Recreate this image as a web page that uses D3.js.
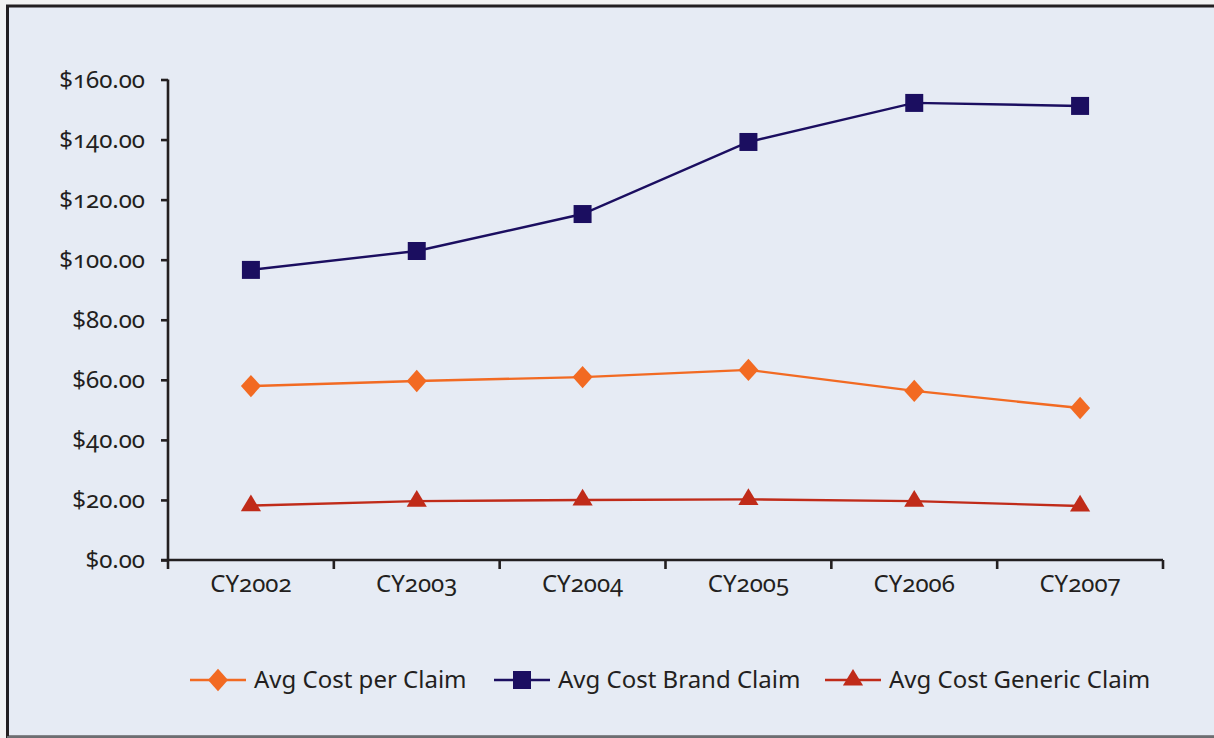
<!DOCTYPE html>
<html>
<head>
<meta charset="utf-8">
<script src="https://cdn.jsdelivr.net/npm/d3@7"></script>
<style>
  html, body { margin: 0; padding: 0; background: #f2f2f2; }
  svg { display: block; }
  text {
    font-family: "Noto Sans", sans-serif;
    font-variant-numeric: oldstyle-nums;
    fill: #231f20;
  }
  .axis path, .axis line { stroke: #231f20; stroke-width: 2.6; }
  .axis text { font-size: 24px; }
  .legend text { font-size: 24px; }
</style>
</head>
<body>
<svg id="chart" width="1214" height="738"></svg>
<script>
"use strict";

const years = ["CY2002", "CY2003", "CY2004", "CY2005", "CY2006", "CY2007"];
const avgCostPerClaim = [57.9, 59.6, 60.9, 63.3, 56.3, 50.6];
const avgCostBrandClaim = [96.6, 102.9, 115.2, 139.2, 152.2, 151.2];
const avgCostGenericClaim = [18.1, 19.6, 20.0, 20.2, 19.6, 18.0];
const yTicks = [0, 20, 40, 60, 80, 100, 120, 140, 160];

// diamond = square turned 45deg, a bit taller than wide
const series = [
  {label: "Avg Cost per Claim", values: avgCostPerClaim, color: "#f26a22", symbol: d3.symbolSquare, size: 200, rot: 45, sx: 1, sy: 1.12},
  {label: "Avg Cost Brand Claim", values: avgCostBrandClaim, color: "#1b0e60", symbol: d3.symbolSquare, size: 324, rot: 0, sx: 1, sy: 1},
  {label: "Avg Cost Generic Claim", values: avgCostGenericClaim, color: "#c02b19", symbol: d3.symbolTriangle, size: 160, rot: 0, sx: 1.05, sy: 1},
];

const svg = d3.select("#chart");

// frame
svg.append("rect")
   .attr("x", 7.5).attr("y", 6)
   .attr("width", 1230).attr("height", 731)
   .attr("fill", "#e6ebf4")
   .attr("stroke", "#231f20")
   .attr("stroke-width", 3);
svg.append("line")
   .attr("x1", 7).attr("x2", 1214)
   .attr("y1", 737).attr("y2", 737)
   .attr("stroke", "#6d6e71").attr("stroke-width", 2);

const margins = {left: 168, right: 51, top: 79.5, bottom: 178};
const width = 1214 - margins.left - margins.right;
const height = 738 - margins.top - margins.bottom;

const g = svg.append("g")
             .attr("transform", `translate(${margins.left}, ${margins.top})`);

const xScale = d3.scaleBand().domain(years).range([0, width]);
const yScale = d3.scaleLinear().domain([0, 160]).range([height, 0]);
const fmt = d3.format("$,.2f");

const markerTransform = (s, x, y) =>
  `translate(${x}, ${y}) scale(${s.sx}, ${s.sy}) rotate(${s.rot})`;

// x axis: ticks on category boundaries
const xAxis = g.append("g")
               .attr("class", "axis")
               .attr("transform", `translate(0, ${height})`);
xAxis.append("line")
     .attr("x1", -7).attr("x2", width).attr("y1", 0).attr("y2", 0);
xAxis.selectAll("line.tick")
     .data(d3.range(years.length + 1))
     .join("line")
     .attr("class", "tick")
     .attr("x1", i => i * xScale.step())
     .attr("x2", i => i * xScale.step())
     .attr("y1", 0).attr("y2", 9);
xAxis.selectAll("text")
     .data(years)
     .join("text")
     .attr("x", d => xScale(d) + xScale.bandwidth() / 2)
     .attr("y", 32)
     .attr("text-anchor", "middle")
     .text(d => d);

// y axis
g.append("g")
 .attr("class", "axis")
 .call(d3.axisLeft(yScale)
         .tickValues(yTicks)
         .tickFormat(fmt)
         .tickSize(7)
         .tickPadding(16)
         .tickSizeOuter(0))
 .call(a => a.select(".domain").attr("d", `M0,${height}V0`))
 .call(a => a.selectAll("text").attr("font-family", null).attr("font-size", null));

// lines and markers
const line = d3.line()
               .x((d, i) => xScale(years[i]) + xScale.bandwidth() / 2)
               .y(d => yScale(d));

series.forEach(s => {
  g.append("path")
   .datum(s.values)
   .attr("fill", "none")
   .attr("stroke", s.color)
   .attr("stroke-width", 2.4)
   .attr("d", line);

  g.selectAll(null)
   .data(s.values)
   .join("path")
   .attr("fill", s.color)
   .attr("transform", (d, i) =>
     markerTransform(s, xScale(years[i]) + xScale.bandwidth() / 2, yScale(d)))
   .attr("d", d3.symbol(s.symbol, s.size));
});

// legend
const legendX = [190, 494, 825];
const legend = svg.append("g").attr("class", "legend");
series.forEach((s, i) => {
  const e = legend.append("g").attr("transform", `translate(${legendX[i]}, 680)`);
  e.append("line")
   .attr("x1", 0).attr("x2", 56)
   .attr("stroke", s.color).attr("stroke-width", 2.6);
  e.append("path")
   .attr("fill", s.color)
   .attr("transform", markerTransform(s, 28, 0))
   .attr("d", d3.symbol(s.symbol, s.size));
  e.append("text")
   .attr("x", 64)
   .attr("dy", "0.35em")
   .text(s.label);
});
</script>
</body>
</html>
